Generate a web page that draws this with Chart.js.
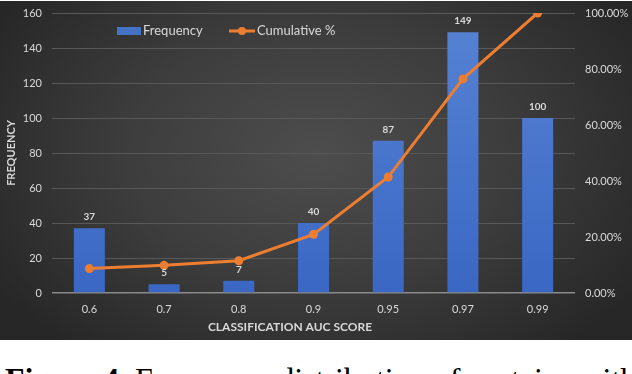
<!DOCTYPE html>
<html>
<head>
<meta charset="utf-8">
<script src="https://cdn.jsdelivr.net/npm/chart.js"></script>
<style>
  html, body { margin: 0; padding: 0; background: #fff; }
  body { width: 632px; height: 374px; position: relative; overflow: hidden; }
  #wrap {
    position: absolute; left: 0; top: 1px; width: 632px; height: 339px;
    background: radial-gradient(ellipse 60% 75% at 50% 45%, #4d4d4d 0%, #3d3d3d 50%, #272727 100%);
  }
  #caption {
    position: absolute; left: 5px; top: 361px; white-space: nowrap;
    font-family: "Liberation Serif", serif; font-size: 32px; color: #000;
  }
</style>
</head>
<body>
<div id="wrap"><canvas id="aucChart" width="632" height="339"></canvas></div>
<div id="caption"><b>Figure 4.</b> Frequency distribution of proteins with</div>
<script>
// chart data
const categories = ["0.6", "0.7", "0.8", "0.9", "0.95", "0.97", "0.99"];
const frequency = [37, 5, 7, 40, 87, 149, 100];
const cumulative = [8.71, 9.88, 11.53, 20.94, 41.41, 76.47, 100];
const freqTicks = [0, 20, 40, 60, 80, 100, 120, 140, 160];
const pctTicks = [0, 20, 40, 60, 80, 100];
const xTitle = "CLASSIFICATION AUC SCORE";

const labelColor = "#d9d9d9";
const font = "Lato";

// value labels above bars
const barLabels = {
  id: "barLabels",
  afterDatasetsDraw(chart) {
    const ctx = chart.ctx;
    const meta = chart.getDatasetMeta(0);
    ctx.save();
    ctx.font = "bold 10px " + font;
    ctx.fillStyle = labelColor;
    ctx.textAlign = "center";
    ctx.textBaseline = "middle";
    meta.data.forEach((bar, i) => {
      ctx.fillText(frequency[i], bar.x, bar.y - 11);
    });
    ctx.restore();
  }
};

// legend inside the plot area + x axis title (sits left of centre in the original)
const innerLegend = {
  id: "innerLegend",
  afterDraw(chart) {
    const ctx = chart.ctx;
    const y = 30;
    ctx.save();
    ctx.fillStyle = "#4472c4";
    ctx.fillRect(117, y - 4, 24, 8);
    ctx.strokeStyle = "#ed7d31";
    ctx.lineWidth = 3;
    ctx.beginPath();
    ctx.moveTo(229, y);
    ctx.lineTo(255, y);
    ctx.stroke();
    ctx.fillStyle = "#ed7d31";
    ctx.beginPath();
    ctx.arc(242, y, 4, 0, Math.PI * 2);
    ctx.fill();
    ctx.font = "13px " + font;
    ctx.fillStyle = labelColor;
    ctx.textBaseline = "middle";
    ctx.fillText("Frequency", 143, y);
    ctx.fillText("Cumulative %", 257, y);

    ctx.font = "bold 12px " + font;
    ctx.textAlign = "center";
    ctx.fillText(xTitle, 290, 326);
    ctx.restore();
  }
};

// drop the extra label padding so the layout padding decides the plot top
const noPad = (s) => { s.paddingTop = 0; s.paddingBottom = 0; };

const ctx = document.getElementById("aucChart").getContext("2d");
const aucChart = new Chart(ctx, {
  type: "bar",
  data: {
    labels: categories,
    datasets: [{
      type: "bar",
      label: "Frequency",
      data: frequency,
      yAxisID: "y",
      backgroundColor: (c) => {
        const area = c.chart.chartArea;
        if (!area) return "#4472c4";
        const g = c.chart.ctx.createLinearGradient(0, area.top, 0, area.bottom);
        g.addColorStop(0, "#5783d4");
        g.addColorStop(1, "#3a67c3");
        return g;
      },
      barPercentage: 0.415,
      categoryPercentage: 1,
      order: 2
    }, {
      type: "line",
      label: "Cumulative %",
      data: cumulative,
      yAxisID: "y1",
      borderColor: "#ed7d31",
      backgroundColor: "#ed7d31",
      borderWidth: 3,
      pointRadius: 4.5,
      pointBorderWidth: 0,
      tension: 0,
      order: 1
    }]
  },
  options: {
    responsive: false,
    animation: false,
    layout: { padding: { top: 12, left: 0, right: 0, bottom: 0 } },
    plugins: {
      legend: { display: false },
      tooltip: { enabled: false }
    },
    scales: {
      x: {
        grid: { display: false, drawTicks: false },
        border: { display: false },
        ticks: { color: labelColor, font: { family: font, size: 11 }, padding: 10 },
        afterFit: (s) => { s.height = 47; }
      },
      y: {
        position: "left",
        min: 0,
        max: 160,
        afterBuildTicks: (s) => { s.ticks = freqTicks.map(v => ({ value: v })); },
        grid: {
          drawTicks: false,
          color: (c) => c.tick && c.tick.value === 0 ? "#8a8a8a" : "#585858",
          lineWidth: (c) => c.tick && c.tick.value === 0 ? 1.5 : 1
        },
        border: { display: false },
        ticks: { color: labelColor, font: { family: font, size: 11 }, padding: 10 },
        title: {
          display: true,
          text: "FREQUENCY",
          color: labelColor,
          font: { family: font, size: 11, weight: "bold" },
          padding: { top: 5, bottom: 0 }
        },
        afterFit: (s) => { s.width = 52; noPad(s); }
      },
      y1: {
        position: "right",
        min: 0,
        max: 100,
        afterBuildTicks: (s) => { s.ticks = pctTicks.map(v => ({ value: v })); },
        grid: { display: false, drawTicks: false },
        border: { display: false },
        ticks: {
          color: labelColor,
          font: { family: font, size: 11 },
          padding: 10,
          callback: (v) => v.toFixed(2) + "%"
        },
        afterFit: (s) => { s.width = 57; noPad(s); }
      }
    }
  },
  plugins: [barLabels, innerLegend]
});
</script>
</body>
</html>
